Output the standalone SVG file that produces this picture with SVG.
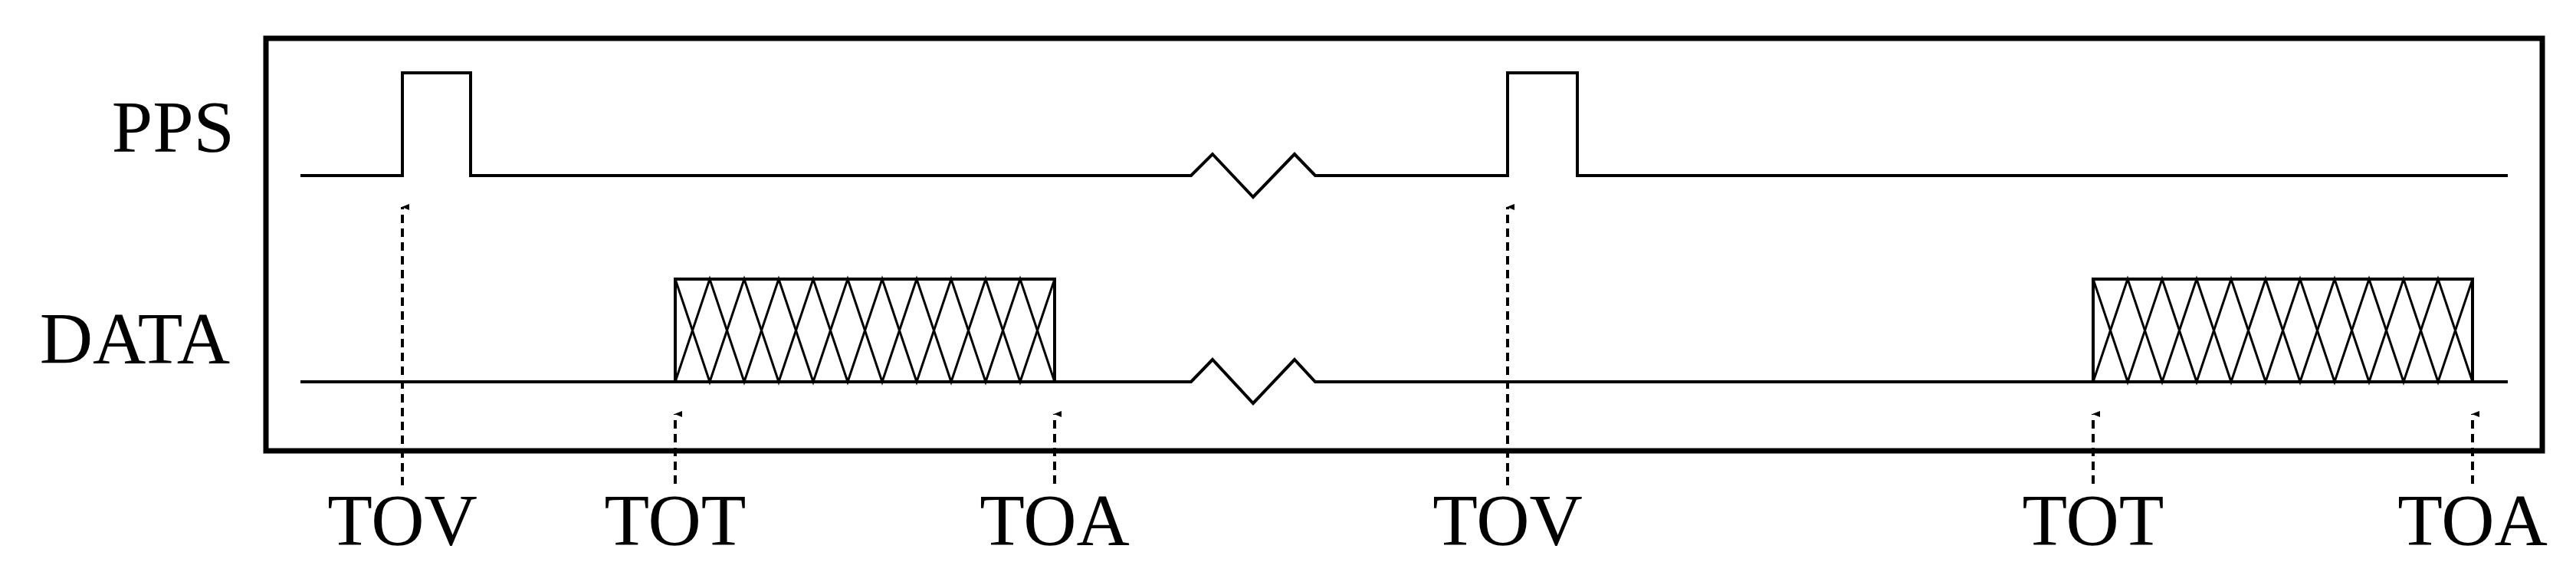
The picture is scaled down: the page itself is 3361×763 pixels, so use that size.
<svg xmlns="http://www.w3.org/2000/svg" width="3361" height="763" viewBox="0 0 3361 763">
<style>
.s{fill:none;stroke:#000;stroke-width:4;stroke-linejoin:miter}
.x{fill:none;stroke:#000;stroke-width:3}
.d{fill:none;stroke:#000;stroke-width:4;stroke-dasharray:11 7}
text{font-family:"Liberation Serif",serif;font-size:96px;fill:#000}
</style>
<defs><marker id="ah" markerWidth="8" markerHeight="10" refX="4" refY="1" orient="auto-start-reverse" markerUnits="userSpaceOnUse" viewBox="0 0 8 10"><path d="M0,10 L4,0 L8,10 Z" fill="#000"/></marker></defs>
<rect x="347" y="50" width="2970" height="538" fill="none" stroke="#000" stroke-width="7"/>
<g id="pps">
<text x="306" y="198" text-anchor="end">PPS</text>
<path class="s" d="M392,229 H525 V95 H614 V229 H1554 L1582,201 L1635,257 L1689,201 L1716,229 H1967 V95 H2058 V229 H3272"/>
</g>
<g id="data">
<text x="300" y="474" text-anchor="end">DATA</text>
<path class="s" d="M392,498 H1554 L1582,469 L1635,526 L1689,469 L1716,498 H3272"/>
<rect class="s" x="881" y="364" width="495" height="134"/>
<polyline class="x" points="881,364 926,498 971,364 1016,498 1061,364 1106,498 1151,364 1196,498 1241,364 1286,498 1331,364 1376,498"/>
<polyline class="x" points="881,498 926,364 971,498 1016,364 1061,498 1106,364 1151,498 1196,364 1241,498 1286,364 1331,498 1376,364"/>
<rect class="s" x="2731" y="364" width="495" height="134"/>
<polyline class="x" points="2731,364 2776,498 2821,364 2866,498 2911,364 2956,498 3001,364 3046,498 3091,364 3136,498 3181,364 3226,498"/>
<polyline class="x" points="2731,498 2776,364 2821,498 2866,364 2911,498 2956,364 3001,498 3046,364 3091,498 3136,364 3181,498 3226,364"/>
</g>
<g id="connectors">
<path class="d" d="M525,633 V270" marker-end="url(#ah)"/>
<path class="d" d="M881,631 V540" marker-end="url(#ah)"/>
<path class="d" d="M1376,631 V540" marker-end="url(#ah)"/>
<path class="d" d="M1967,633 V270" marker-end="url(#ah)"/>
<path class="d" d="M2731,631 V540" marker-end="url(#ah)"/>
<path class="d" d="M3226,631 V540" marker-end="url(#ah)"/>
</g>
<g id="labels">
<text x="525" y="711" text-anchor="middle">TOV</text>
<text x="881" y="711" text-anchor="middle">TOT</text>
<text x="1376" y="711" text-anchor="middle">TOA</text>
<text x="1967" y="711" text-anchor="middle">TOV</text>
<text x="2731" y="711" text-anchor="middle">TOT</text>
<text x="3226" y="711" text-anchor="middle">TOA</text>
</g>
</svg>
